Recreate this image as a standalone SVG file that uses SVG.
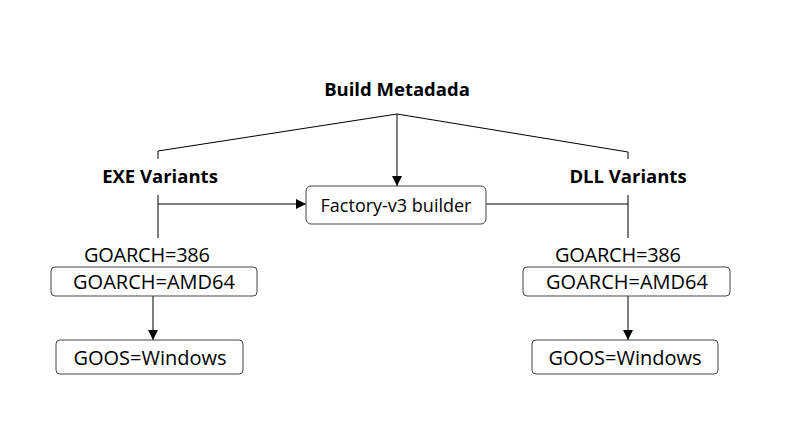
<svg xmlns="http://www.w3.org/2000/svg" width="786" height="429" viewBox="0 0 786 429">
<defs>
<marker id="ah" viewBox="0 0 10 10" refX="10" refY="5" markerWidth="10" markerHeight="10" markerUnits="userSpaceOnUse" orient="auto">
<path d="M0,0 L10,5 L0,10 z" fill="#000"/>
</marker>
<style>
text{font-family:"Open Sans","Noto Sans","DejaVu Sans",sans-serif;fill:#000;text-anchor:middle}
.b{font-weight:bold;font-size:18.5px}
.r{font-size:20px}
.f{font-size:18px}
.box{fill:#fff;stroke:#444;stroke-width:1}
.ln{fill:none;stroke:#000;stroke-width:1}
</style>
</defs>
<rect width="786" height="429" fill="#fff"/>
<g id="connectors">
<polyline class="ln" points="158,159 158,151 397,114 628,152 628,159"/>
<line class="ln" x1="397" y1="114" x2="397" y2="186" marker-end="url(#ah)"/>
<line class="ln" x1="158" y1="195" x2="158" y2="238"/>
<line class="ln" x1="158" y1="204" x2="306" y2="204" marker-end="url(#ah)"/>
<line class="ln" x1="486" y1="204" x2="628" y2="204"/>
<line class="ln" x1="628" y1="195" x2="628" y2="238"/>
<line class="ln" x1="153" y1="296" x2="153" y2="340" marker-end="url(#ah)"/>
<line class="ln" x1="628" y1="296" x2="628" y2="340" marker-end="url(#ah)"/>
</g>
<g id="build-metadata"><text class="b" x="397" y="96">Build Metadada</text></g>
<g id="exe-variants"><text class="b" x="160" y="183">EXE Variants</text></g>
<g id="dll-variants"><text class="b" x="628" y="183">DLL Variants</text></g>
<g id="factory"><rect class="box" x="306" y="186" width="180" height="38" rx="5"/><text class="f" x="396" y="212">Factory-v3 builder</text></g>
<g id="exe-386"><text class="r" x="147" y="262" textLength="126">GOARCH=386</text></g>
<g id="exe-amd64"><rect class="box" x="51" y="267" width="206" height="29" rx="4"/><text class="r" x="154" y="289">GOARCH=AMD64</text></g>
<g id="exe-goos"><rect class="box" x="56" y="340" width="187" height="34" rx="4"/><text class="r" x="150" y="365">GOOS=Windows</text></g>
<g id="dll-386"><text class="r" x="618" y="262" textLength="126">GOARCH=386</text></g>
<g id="dll-amd64"><rect class="box" x="523" y="267" width="207" height="29" rx="4"/><text class="r" x="627" y="289">GOARCH=AMD64</text></g>
<g id="dll-goos"><rect class="box" x="532" y="340" width="186" height="34" rx="4"/><text class="r" x="625" y="365">GOOS=Windows</text></g>
</svg>
